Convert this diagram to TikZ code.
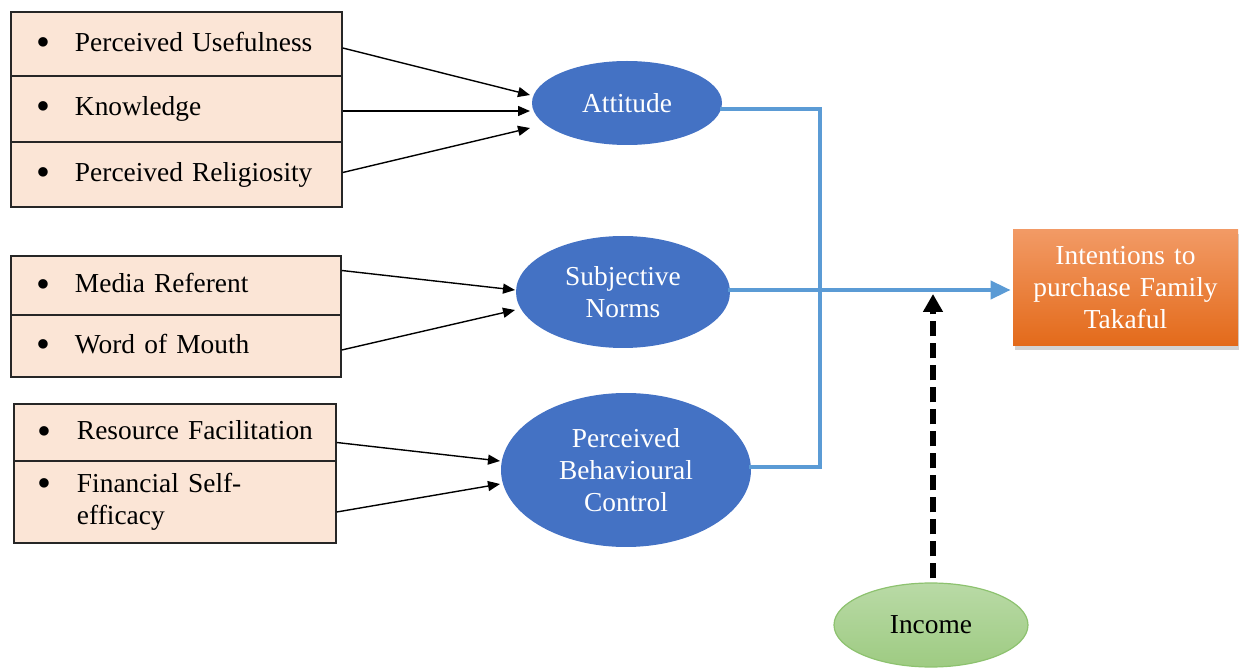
\documentclass[tikz,border=0pt]{standalone}
\usepackage{fontspec}
\setmainfont{Liberation Serif}
\usetikzlibrary{shapes.geometric,arrows.meta,calc,shadows}
\definecolor{peach}{HTML}{FBE5D6}
\definecolor{ellblue}{HTML}{4472C4}
\definecolor{lineblue}{HTML}{5B9BD5}
\definecolor{inctop}{HTML}{B9DAA6}
\definecolor{incbot}{HTML}{9ECB82}
\definecolor{incedge}{HTML}{8DC26F}
\definecolor{ortop}{HTML}{F29A65}
\definecolor{orbot}{HTML}{E36A1A}
\newcommand{\bul}{\makebox[19.5pt][l]{\raisebox{-2.2pt}{\scalebox{1.45}{\textbullet}}}}
\newcommand{\rowfont}{\fontsize{13.7}{16}\selectfont\spaceskip=2.2pt\relax\hyphenpenalty=10000\relax}
\begin{document}
\begin{tikzpicture}[x=0.5pt,y=-0.5pt,
  txt/.style={font=\fontsize{13.7}{16}\selectfont},
  rowbox/.style={font=\rowfont,
    draw=black!85, line width=0.75pt, fill=peach, align=left,
    inner xsep=12.5pt, inner ysep=0pt},
  blueell/.style={txt, ellipse, fill=ellblue, text=white, align=center, inner sep=0pt},
  thinarrow/.style={draw=black, line width=0.7pt, -{Triangle[length=6pt,width=5pt]}},
  blueline/.style={draw=lineblue, line width=2pt},
  dashline/.style={draw=black, line width=2.6pt, dash pattern=on 7.5pt off 3.5pt,
    -{Triangle[length=9pt,width=9.5pt]}}
]
\useasboundingbox (0,0) rectangle (1239,668);

% Box 1
\node[rowbox, minimum width=165.5pt, text width=140.5pt, minimum height=32pt] (pu) at (176.5,44) {\bul Perceived Usefulness};
\node[rowbox, minimum width=165.5pt, text width=140.5pt, minimum height=33pt] (kn) at (176.5,109) {\bul Knowledge};
\node[rowbox, minimum width=165.5pt, text width=140.5pt, minimum height=32.5pt] (pr) at (176.5,174.5) {\bul Perceived Religiosity};

% Box 2
\node[rowbox, minimum width=165pt, text width=140pt, minimum height=29.5pt] (mr) at (176,285.5) {\bul Media Referent};
\node[rowbox, minimum width=165pt, text width=140pt, minimum height=31pt] (wm) at (176,346) {\bul Word of Mouth};

% Box 3
\node[rowbox, minimum width=161pt, text width=137pt, inner xsep=12pt, minimum height=28.5pt] (rf) at (175,432.5) {\bul\mbox{Resource Facilitation}};
\node[rowbox, minimum width=161pt, text width=137pt, inner xsep=12pt, minimum height=41pt] (fs) at (175,502) {\bul\begin{tabular}[t]{@{}l@{}}Financial Self-\\[0pt]efficacy\end{tabular}};

% Constructs
\node[blueell, minimum width=95pt, minimum height=42pt] (att) at (627,103) {Attitude};
\node[blueell, minimum width=107pt, minimum height=56pt] (sn) at (623,292) {Subjective\\Norms};
\node[blueell, minimum width=125pt, minimum height=77pt] (pbc) at (626,470) {Perceived\\Behavioural\\Control};

% Target
\node[txt, rectangle, top color=ortop, bottom color=orbot, text=white, align=center,
  minimum width=112.5pt, minimum height=58pt, text width=108pt, inner sep=0pt,
  drop shadow={shadow xshift=1.2pt, shadow yshift=-2pt, opacity=0.35}] (int) at (1125.5,288) {Intentions to\\purchase Family\\Takaful};

% Income
\node[txt, ellipse, top color=inctop, bottom color=incbot, draw=incedge, line width=0.6pt,
  minimum width=97pt, minimum height=42pt, inner sep=0pt] (inc) at (931,625) {Income};

% Black arrows
\draw[thinarrow] ($(pu.east)+(0,4)$) -- ($(att.center)+(-97,-8)$);
\draw[thinarrow] ($(kn.east)+(0,2)$) -- ($(att.center)+(-97,8)$);
\draw[thinarrow] ($(pr.east)+(0,-2)$) -- ($(att.center)+(-97,25)$);
\draw[thinarrow] ($(mr.east)+(0,-15)$) -- ($(sn.center)+(-108,-2)$);
\draw[thinarrow] ($(wm.east)+(0,4)$) -- ($(sn.center)+(-108,18)$);
\draw[thinarrow] ($(rf.east)+(0,10)$) -- ($(pbc.center)+(-126,-9)$);
\draw[thinarrow] ($(fs.east)+(0,10)$) -- ($(pbc.center)+(-126,14)$);

% Blue connectors
\coordinate (j1) at (820,109);
\coordinate (j2) at (820,467);
\draw[blueline] ($(att.east)+(-2,6)$) -- (j1) -- (j2) -- ($(pbc.east)+(-2,-3)$);
\draw[blueline, -{Triangle[length=10pt,width=9pt]}] ($(sn.east)+(-2,-2)$) -- ($(int.west)+(-2,2)$);

% Dashed income arrow
\coordinate (dtip) at (933,294);
\draw[dashline] ($(inc.north)+(2,-4)$) -- (dtip);
\end{tikzpicture}
\end{document}
